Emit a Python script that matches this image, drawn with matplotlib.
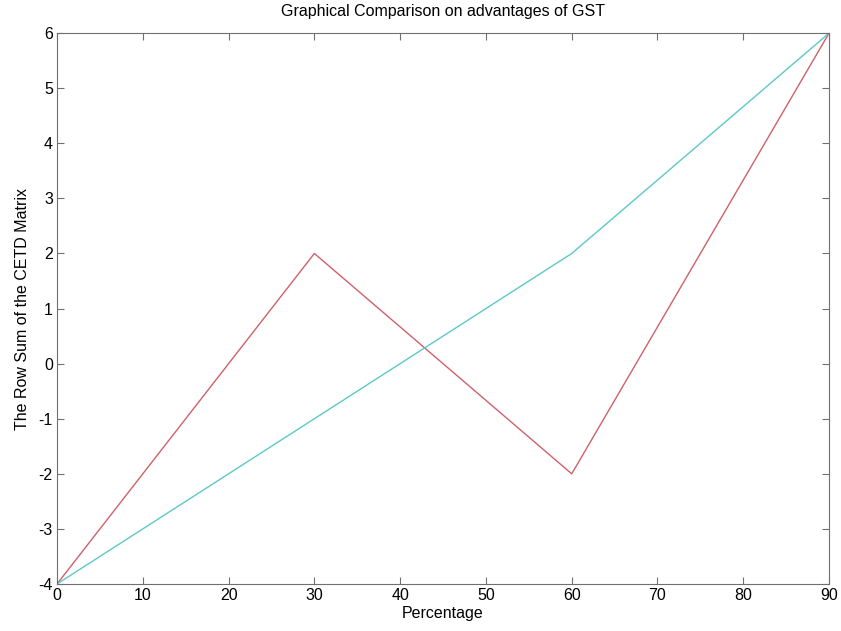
import matplotlib
matplotlib.use('Agg')
import matplotlib.pyplot as plt

plt.rcParams['font.family'] = ['Liberation Sans', 'DejaVu Sans']
plt.rcParams['axes.unicode_minus'] = False

# percentage on x, row sums of the CETD matrix on y
pct = [0, 30, 60, 90]
row_sum_a = [-4, 2, -2, 6]
row_sum_b = [-4, -1, 2, 6]

fig = plt.figure(figsize=(8.41, 6.31), dpi=100)
ax = fig.add_axes([0.0678, 0.0745, 0.918, 0.873])

ax.plot(pct, row_sum_a, color='#d0606a', lw=1.0)
ax.plot(pct, row_sum_b, color='#5cc8c8', lw=1.0)

ax.set_xlim(0, 90)
ax.set_ylim(-4, 6)
ax.set_xticks(range(0, 91, 10))
ax.set_yticks(range(-4, 7))

for sp in ax.spines.values():
    sp.set_color('#707070')
ax.tick_params(direction='in', top=True, right=True, length=5, color='#707070',
               labelsize=11.5, pad=3)

ax.set_title('Graphical Comparison on advantages of GST', fontsize=11.5, pad=12)
ax.set_xlabel('Percentage', fontsize=11.5, labelpad=2)
ax.set_ylabel('The Row Sum of the CETD Matrix', fontsize=11.5, labelpad=6)

fig.savefig('out.png', dpi=100)
